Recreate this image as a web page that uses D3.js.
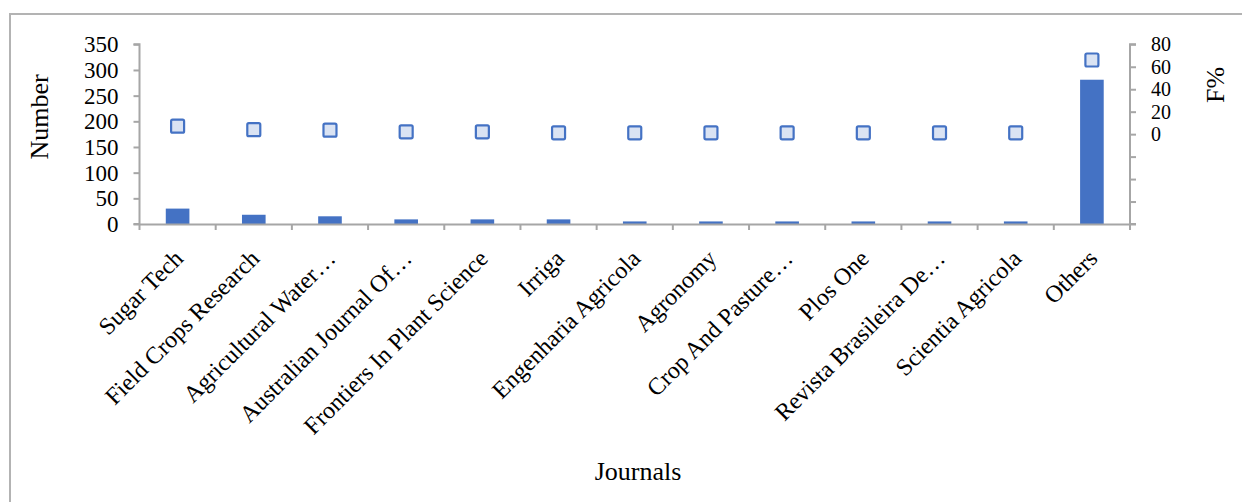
<!DOCTYPE html>
<html><head><meta charset="utf-8">
<script src="https://cdn.jsdelivr.net/npm/d3@7"></script>
<style>
html,body{margin:0;padding:0;background:#fff;}
svg{display:block;}
text{font-family:"Liberation Serif","Times New Roman",serif;fill:#000;}
</style></head>
<body>
<svg id="chart" width="1242" height="502"></svg>
<script>
const journals = ["Sugar Tech","Field Crops Research","Agricultural Water…","Australian Journal Of…","Frontiers In Plant Science","Irriga","Engenharia Agricola","Agronomy","Crop And Pasture…","Plos One","Revista Brasileira De…","Scientia Agricola","Others"];
const numberValues = [30,18,15,9,9,9,5,5,5,5,5,5,281];
const fPercent = [7.1,4.0,3.5,2.1,2.1,1.2,1.2,1.2,1.2,1.2,1.2,1.2,66];
const leftTicks = [0,50,100,150,200,250,300,350];
const rightTicks = [-80,-60,-40,-20,0,20,40,60,80];
const rightLabels = [0,20,40,60,80];

const svg = d3.select("#chart");
const axisColor = "#a6a6a6";
const barColor = "#4472c4";

// chart frame
svg.append("path").attr("d","M10,503 L10,14 L1243,14")
  .attr("fill","none").attr("stroke","#b3b3b3").attr("stroke-width",2);

const x0 = 139.5, x1 = 1130, yBottom = 224, yTop = 44.3;
const x = d3.scaleBand().domain(journals).range([x0,x1]).paddingInner(0.69).paddingOuter(0.345);
const xb = d3.scaleBand().domain(journals).range([x0,x1]);
const yL = d3.scaleLinear().domain([0,350]).range([yBottom,yTop]);
const yR = d3.scaleLinear().domain([-80,80]).range([yBottom,yTop]);

// bars
svg.append("g").selectAll("rect").data(journals).join("rect")
  .attr("x",d=>x(d)).attr("width",x.bandwidth())
  .attr("y",(d,i)=>yL(numberValues[i])).attr("height",(d,i)=>yBottom-yL(numberValues[i]))
  .attr("fill",barColor);

// left axis
const gL = svg.append("g").attr("transform",`translate(${x0},0)`)
  .call(d3.axisLeft(yL).tickValues(leftTicks).tickSize(6).tickPadding(15));
// right axis
const gR = svg.append("g").attr("transform",`translate(${x1},0)`)
  .call(d3.axisRight(yR).tickValues(rightTicks).tickSize(6).tickPadding(15)
    .tickFormat(d=>rightLabels.includes(d)?d:""));
// bottom axis
const gB = svg.append("g").attr("transform",`translate(0,${yBottom})`)
  .call(d3.axisBottom(xb).tickSize(0).tickFormat(""));
gB.selectAll(".tick").remove();
gB.append("g").selectAll("line").data(journals.slice(1)).join("line")
  .attr("x1",d=>xb(d)).attr("x2",d=>xb(d)).attr("y1",0).attr("y2",6);
gB.append("line").attr("x1",x0).attr("x2",x0).attr("y1",0).attr("y2",6);
gB.append("line").attr("x1",x1).attr("x2",x1).attr("y1",0).attr("y2",6);

[gL,gR,gB].forEach(g=>{
  g.selectAll("path.domain").attr("stroke",axisColor).attr("stroke-width",2);
  g.selectAll("line").attr("stroke",axisColor).attr("stroke-width",2);
  g.selectAll("text").attr("font-size","23px").attr("font-family","Liberation Serif").attr("fill","#000");
});
gR.selectAll("text").attr("font-size","20px");
gR.selectAll(".tick").filter(d=>!rightLabels.includes(d)).select("text").remove();
gL.select("path.domain").attr("d",`M-6,${yTop}H0V${yBottom}H-6`);
gR.select("path.domain").attr("d",`M6,${yTop}H0V${yBottom}H6`);

// category labels
svg.append("g").selectAll("text").data(journals).join("text")
  .attr("transform",d=>`translate(${xb(d)+xb.bandwidth()/2+7},260) rotate(-45)`)
  .attr("text-anchor","end").attr("font-size","24px").text(d=>d);

// markers
const ms = 13;
svg.append("g").selectAll("rect").data(journals).join("rect")
  .attr("x",d=>xb(d)+xb.bandwidth()/2-ms/2)
  .attr("y",(d,i)=>yR(fPercent[i])-ms/2)
  .attr("width",ms).attr("height",ms).attr("rx",1.5)
  .attr("fill","#dae3f3").attr("stroke",barColor).attr("stroke-width",2.2);

// axis titles
svg.append("text").attr("transform","translate(48,117) rotate(-90)")
  .attr("text-anchor","middle").attr("font-size","26px").text("Number");
svg.append("text").attr("transform","translate(1224,85) rotate(-90)")
  .attr("text-anchor","middle").attr("font-size","26px").text("F%");
svg.append("text").attr("x",638).attr("y",480)
  .attr("text-anchor","middle").attr("font-size","26px").text("Journals");
</script>
</body></html>
